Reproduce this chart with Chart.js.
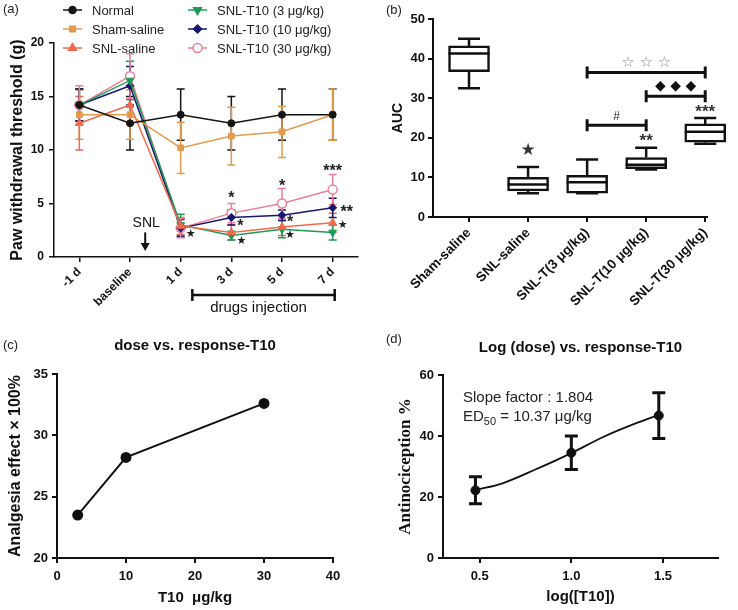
<!DOCTYPE html>
<html>
<head>
<meta charset="utf-8">
<script src="https://cdn.jsdelivr.net/npm/chart.js@4.4.1/dist/chart.umd.min.js"></script>
<style>
  body { margin: 0; background: #fff; width: 738px; height: 610px; position: relative; overflow: hidden;
         font-family: "Liberation Sans", Arial, sans-serif; }
  canvas { position: absolute; }
  .tag { position: absolute; font-size: 13px; color: #222; }
</style>
</head>
<body>
<canvas id="chartA" width="370" height="320" style="left:0;top:0"></canvas>
<canvas id="chartB" width="368" height="320" style="left:370px;top:0"></canvas>
<canvas id="chartC" width="370" height="290" style="left:0;top:320px"></canvas>
<canvas id="chartD" width="368" height="290" style="left:370px;top:320px"></canvas>
<div class="tag" style="left:3px;top:1px">(a)</div>
<div class="tag" style="left:386px;top:2px">(b)</div>
<div class="tag" style="left:3px;top:337px">(c)</div>
<div class="tag" style="left:386px;top:331px">(d)</div>
<script>
// ---- panel (a): paw withdrawal threshold over time ----
const timeLabels = ['-1 d', 'baseline', '1 d', '3 d', '5 d', '7 d'];
const normalMean = [14.2, 12.5, 13.3, 12.5, 13.3, 13.3];
const normalSem  = [1.5, 2.5, 2.4, 2.5, 2.4, 2.4];
const shamMean   = [13.3, 13.3, 10.2, 11.3, 11.7, 13.3];
const shamSem    = [2.3, 2.3, 2.4, 2.7, 2.4, 2.4];
const snlMean    = [12.5, 14.2, 2.9, 2.3, 2.8, 3.2];
const snlSem     = [2.5, 1.8, 0.8, 0.7, 0.8, 0.9];
const t3Mean     = [14.2, 16.5, 3.0, 2.0, 2.6, 2.3];
const t3Sem      = [1.5, 1.8, 1.0, 0.4, 0.8, 0.7];
const t10Mean    = [14.2, 16.0, 2.7, 3.7, 3.9, 4.6];
const t10Sem     = [1.5, 1.8, 0.8, 0.7, 0.5, 0.9];
const t30Mean    = [14.2, 16.9, 2.7, 4.1, 5.0, 6.3];
const t30Sem     = [1.8, 2.1, 0.9, 0.9, 1.4, 1.4];
// significance marks: category index, value, text
const sigMarksA = [
  [2, 2.1, '★', 10], [3, 5.8, '*', 0], [3, 3.2, '*', 9], [3, 1.5, '★', 10],
  [4, 6.9, '*', 0], [4, 3.5, '*', 8], [4, 2.0, '★', 8],
  [5, 8.3, '***', 0], [5, 4.5, '**', 14], [5, 3.0, '★', 10]
];

// ---- panel (b): AUC box plot ----
const groupsB = ['Sham-saline', 'SNL-saline', 'SNL-T(3 μg/kg)', 'SNL-T(10 μg/kg)', 'SNL-T(30 μg/kg)'];
const aucMin = [32.5, 6.0, 6.0, 12.0, 18.5];
const aucQ1  = [36.7, 6.6, 6.0, 12.2, 18.9];
const aucMed = [41.3, 8.2, 8.8, 13.2, 21.5];
const aucQ3  = [43.2, 10.0, 10.5, 15.0, 23.5];
const aucMax = [45.0, 12.6, 14.5, 17.5, 25.0];
const sigMarksB = [[1, 16.7, '★'], [3, 20.0, '**'], [4, 27.3, '***']];
const bracketsB = [
  { from: 2, to: 3, y: 23.2, text: '#', ty: 25.3 },
  { from: 3, to: 4, y: 30.5, text: '◆ ◆ ◆', ty: 33.0 },
  { from: 2, to: 4, y: 36.5, text: '☆ ☆ ☆', ty: 38.9 }
];

// ---- panel (c): dose vs response ----
const doseC = [3, 10, 30];
const effectC = [23.5, 28.2, 32.6];

// ---- panel (d): log dose vs response ----
const logDose = [0.477, 1.0, 1.477];
const antiMean = [22.2, 34.5, 46.7];
const antiSem = [4.4, 5.5, 7.5];
const fitX = [0.477, 0.625, 0.807, 1.0, 1.171, 1.354, 1.477];
const fitY = [22.3, 24.5, 29.1, 34.4, 39.6, 44.2, 46.9];

const SANS = '"Liberation Sans", Arial, sans-serif';
Chart.defaults.font.family = SANS;
Chart.defaults.color = '#111';
Chart.defaults.animation = false;
Chart.defaults.plugins.legend.display = false;
Chart.defaults.plugins.tooltip.enabled = false;

function axis(opts) {
  const w = opts.lineWidth || 2;
  return Object.assign({
    border: { display: true, color: '#111', width: w },
    grid: { display: true, drawOnChartArea: false, drawTicks: true, tickLength: 5, color: '#111', lineWidth: w },
    ticks: { color: '#111', font: { size: 13, weight: 'bold' }, padding: 4 }
  }, opts.extra);
}

function mark(ctx, text, x, y, size, color) {
  const star = /[★☆◆]/.test(text);
  ctx.font = (star ? '' : 'bold ') + size + 'px ' + (star ? '"DejaVu Sans", sans-serif' : SANS);
  ctx.fillStyle = color || '#111';
  ctx.textAlign = 'center';
  ctx.textBaseline = 'middle';
  // asterisks sit high in the em box, pull them down to their visual centre
  ctx.fillText(text, x, text.indexOf('*') >= 0 ? y + size * 0.22 : y);
}

// ================= (a) =================
const semA = [normalSem, shamSem, snlSem, t3Sem, t10Sem, t30Sem];
const panelA = {
  id: 'panelA',
  beforeDatasetsDraw(chart) {
    const { ctx, scales: { x, y } } = chart;
    chart.data.datasets.forEach((ds, k) => {
      ctx.save();
      ctx.strokeStyle = ds.borderColor;
      ctx.lineWidth = 1.5;
      ds.data.forEach((v, i) => {
        const px = x.getPixelForValue(i);
        const top = y.getPixelForValue(v + semA[k][i]);
        const bot = y.getPixelForValue(v - semA[k][i]);
        ctx.beginPath();
        ctx.moveTo(px, top); ctx.lineTo(px, bot);
        ctx.moveTo(px - 4, top); ctx.lineTo(px + 4, top);
        ctx.moveTo(px - 4, bot); ctx.lineTo(px + 4, bot);
        ctx.stroke();
      });
      ctx.restore();
    });
  },
  afterDraw(chart) {
    const { ctx, chartArea, scales: { x, y } } = chart;
    ctx.save();
    // legend, two columns
    chart.data.datasets.forEach((ds, k) => {
      const lx = k < 3 ? 63 : 188;
      const ly = 10 + (k % 3) * 19;
      ctx.strokeStyle = ds.borderColor;
      ctx.lineWidth = 1.5;
      ctx.beginPath(); ctx.moveTo(lx, ly); ctx.lineTo(lx + 19, ly); ctx.stroke();
      ctx.fillStyle = ds.backgroundColor;
      Chart.helpers.drawPoint(ctx, {
        pointStyle: ds.pointStyle, radius: ds.pointRadius,
        rotation: ds.pointRotation || 0, borderWidth: ds.pointBorderWidth
      }, lx + 9.5, ly);
      ctx.fillStyle = '#222';
      ctx.font = '13px ' + SANS;
      ctx.textAlign = 'left';
      ctx.textBaseline = 'middle';
      ctx.fillText(ds.label, lx + 29, ly + 1);
    });
    // significance marks
    sigMarksA.forEach(([i, v, t, dx]) => {
      mark(ctx, t, x.getPixelForValue(i) + dx, y.getPixelForValue(v), t.indexOf('★') >= 0 ? 11 : 16, '#222');
    });
    // SNL arrow
    const sx = x.getPixelForValue(1.3);
    ctx.fillStyle = '#111';
    ctx.font = '14px ' + SANS;
    ctx.textAlign = 'center';
    ctx.fillText('SNL', sx + 1, y.getPixelForValue(3.2));
    ctx.strokeStyle = '#111';
    ctx.lineWidth = 2;
    ctx.beginPath(); ctx.moveTo(sx, y.getPixelForValue(2.3)); ctx.lineTo(sx, y.getPixelForValue(1.1)); ctx.stroke();
    const headTop = y.getPixelForValue(1.3), tip = y.getPixelForValue(0.55);
    ctx.beginPath(); ctx.moveTo(sx - 4.5, headTop); ctx.lineTo(sx + 4.5, headTop); ctx.lineTo(sx, tip); ctx.closePath(); ctx.fill();
    // drugs injection bracket
    const bx0 = x.getPixelForValue(2.23), bx1 = x.getPixelForValue(5.04), by = chartArea.bottom + 38;
    ctx.lineWidth = 2.5;
    ctx.beginPath();
    ctx.moveTo(bx0, by); ctx.lineTo(bx1, by);
    ctx.moveTo(bx0, by - 6); ctx.lineTo(bx0, by + 6);
    ctx.moveTo(bx1, by - 6); ctx.lineTo(bx1, by + 6);
    ctx.stroke();
    ctx.font = '15px ' + SANS;
    ctx.fillText('drugs injection', (bx0 + bx1) / 2 - 5, by + 13);
    ctx.restore();
  }
};

function lineSet(label, data, color, style, radius, extra) {
  return Object.assign({
    label: label, data: data, borderColor: color, backgroundColor: color,
    borderWidth: 1.5, pointStyle: style, pointRadius: radius, pointBorderWidth: 1, tension: 0
  }, extra || {});
}

new Chart(document.getElementById('chartA'), {
  type: 'line',
  data: {
    labels: timeLabels,
    datasets: [
      lineSet('Normal', normalMean, '#151515', 'circle', 3.5),
      lineSet('Sham-saline', shamMean, '#E29A4C', 'rect', 4),
      lineSet('SNL-saline', snlMean, '#F2694D', 'triangle', 4.5),
      lineSet('SNL-T10 (3 μg/kg)', t3Mean, '#1E9A58', 'triangle', 4.5, { pointRotation: 180 }),
      lineSet('SNL-T10 (10 μg/kg)', t10Mean, '#17176F', 'rectRot', 4),
      lineSet('SNL-T10 (30 μg/kg)', t30Mean, '#EC7E99', 'circle', 4.5, { backgroundColor: '#fff', pointBorderWidth: 1.5 })
    ]
  },
  options: {
    responsive: false,
    layout: { padding: { left: 0, top: 43, right: 12, bottom: 0 } },
    scales: {
      x: axis({ lineWidth: 1.5, extra: {
        offset: true,
        ticks: { color: '#111', font: { size: 12, weight: 'bold' }, minRotation: 45, maxRotation: 45, autoSkip: false, padding: 3 },
        afterFit(s) { s.height = 63; }
      } }),
      y: axis({ lineWidth: 1.5, extra: {
        min: 0, max: 20,
        ticks: { color: '#111', font: { size: 12, weight: 'bold' }, stepSize: 5, padding: 5 },
        title: { display: true, text: 'Paw withdrawal threshold (g)', font: { size: 16, weight: 'bold' }, padding: { top: 8, bottom: 0 } },
        afterFit(s) { s.width = 54; }
      } })
    }
  },
  plugins: [panelA]
});

// ================= (b) =================
const panelB = {
  id: 'panelB',
  afterDatasetsDraw(chart) {
    const { ctx, scales: { x, y } } = chart;
    ctx.save();
    ctx.strokeStyle = '#111';
    ctx.lineWidth = 2.5;
    groupsB.forEach((g, i) => {
      const px = x.getPixelForValue(i);
      const hw = 20.5, cw = 11;
      const ymin = y.getPixelForValue(aucMin[i]), yq1 = y.getPixelForValue(aucQ1[i]);
      const ymed = y.getPixelForValue(aucMed[i]);
      const yq3 = y.getPixelForValue(aucQ3[i]), ymax = y.getPixelForValue(aucMax[i]);
      ctx.beginPath();
      ctx.moveTo(px - hw, ymed); ctx.lineTo(px + hw, ymed);
      ctx.moveTo(px, yq3); ctx.lineTo(px, ymax);
      ctx.moveTo(px - cw, ymax); ctx.lineTo(px + cw, ymax);
      ctx.moveTo(px, yq1); ctx.lineTo(px, ymin);
      ctx.moveTo(px - cw, ymin); ctx.lineTo(px + cw, ymin);
      ctx.stroke();
    });
    bracketsB.forEach(b => {
      const x0 = x.getPixelForValue(b.from), x1 = x.getPixelForValue(b.to), by = y.getPixelForValue(b.y);
      ctx.lineWidth = 3;
      ctx.beginPath();
      ctx.moveTo(x0, by); ctx.lineTo(x1, by);
      ctx.moveTo(x0, by - 6); ctx.lineTo(x0, by + 6);
      ctx.moveTo(x1, by - 6); ctx.lineTo(x1, by + 6);
      ctx.stroke();
      if (b.text === '#') {
        ctx.font = '12px ' + SANS;
        ctx.fillStyle = '#222';
        ctx.textAlign = 'center';
        ctx.textBaseline = 'middle';
        ctx.fillText(b.text, (x0 + x1) / 2, y.getPixelForValue(b.ty));
      } else if (b.text.indexOf('☆') >= 0) {
        mark(ctx, b.text, (x0 + x1) / 2, y.getPixelForValue(b.ty), 15, '#8c8c8c');
      } else {
        mark(ctx, b.text, (x0 + x1) / 2, y.getPixelForValue(b.ty), 14, '#111');
      }
    });
    sigMarksB.forEach(([i, v, t]) => {
      mark(ctx, t, x.getPixelForValue(i), y.getPixelForValue(v), t === '★' ? 17 : 17, '#333');
    });
    ctx.restore();
  }
};

new Chart(document.getElementById('chartB'), {
  type: 'bar',
  data: {
    datasets: [{
      data: groupsB.map((g, i) => ({ x: i, y: [aucQ1[i], aucQ3[i]] })),
      backgroundColor: '#fff', borderColor: '#111', borderWidth: 2.5, borderSkipped: false,
      barThickness: 41, clip: false
    }]
  },
  options: {
    responsive: false,
    layout: { padding: { left: 0, top: 19, right: 31, bottom: 0 } },
    scales: {
      x: axis({ extra: {
        type: 'linear', min: -0.61, max: 4.03, offset: false,
        grid: { display: true, drawOnChartArea: false, drawTicks: true, tickLength: 5, color: '#111', lineWidth: 2, offset: false },
        afterBuildTicks(s) { s.ticks = groupsB.map((g, i) => ({ value: i })); },
        ticks: { color: '#111', font: { size: 13.5, weight: 'bold' }, minRotation: 45, maxRotation: 45, autoSkip: false, padding: 3,
                 callback: v => groupsB[v] },
        afterFit(s) { s.height = 103; }
      } }),
      y: axis({ extra: {
        min: 0, max: 50,
        ticks: { color: '#111', font: { size: 13, weight: 'bold' }, stepSize: 10, padding: 3 },
        title: { display: true, text: 'AUC', font: { size: 14, weight: 'bold' }, padding: { top: 20, bottom: 0 } },
        afterFit(s) { s.width = 63; }
      } })
    }
  },
  plugins: [panelB]
});

// ================= (c) =================
new Chart(document.getElementById('chartC'), {
  type: 'scatter',
  data: {
    datasets: [{
      data: doseC.map((d, i) => ({ x: d, y: effectC[i] })),
      showLine: true, borderColor: '#111', backgroundColor: '#111', borderWidth: 2, pointRadius: 4.5
    }]
  },
  options: {
    responsive: false,
    layout: { padding: { left: 0, top: 0, right: 37, bottom: 0 } },
    plugins: {
      title: { display: true, fullSize: false, text: 'dose vs. response-T10', color: '#111',
               font: { size: 15, weight: 'bold' }, padding: { top: 17, bottom: 19 } }
    },
    scales: {
      x: axis({ extra: {
        min: 0, max: 40,
        ticks: { color: '#111', font: { size: 13, weight: 'bold' }, stepSize: 10, padding: 6 },
        title: { display: true, text: 'T10  μg/kg', font: { size: 15, weight: 'bold' }, padding: { top: 0, bottom: 3 } },
        afterFit(s) { s.height = 52; }
      } }),
      y: axis({ extra: {
        min: 20, max: 35,
        ticks: { color: '#111', font: { size: 13, weight: 'bold' }, stepSize: 5, padding: 4 },
        title: { display: true, text: 'Analgesia effect × 100%', font: { size: 16, weight: 'bold' }, padding: { top: 6, bottom: 0 } },
        afterFit(s) { s.width = 57; }
      } })
    }
  }
});

// ================= (d) =================
const panelD = {
  id: 'panelD',
  beforeDatasetsDraw(chart) {
    const { ctx, scales: { x, y } } = chart;
    ctx.save();
    ctx.strokeStyle = '#111';
    ctx.lineWidth = 3;
    logDose.forEach((d, i) => {
      const px = x.getPixelForValue(d);
      const top = y.getPixelForValue(antiMean[i] + antiSem[i]);
      const bot = y.getPixelForValue(antiMean[i] - antiSem[i]);
      ctx.beginPath();
      ctx.moveTo(px, top); ctx.lineTo(px, bot);
      ctx.moveTo(px - 6.5, top); ctx.lineTo(px + 6.5, top);
      ctx.moveTo(px - 6.5, bot); ctx.lineTo(px + 6.5, bot);
      ctx.stroke();
    });
    ctx.restore();
  },
  afterDraw(chart) {
    const { ctx, chartArea } = chart;
    ctx.save();
    ctx.fillStyle = '#222';
    ctx.textAlign = 'left';
    ctx.textBaseline = 'middle';
    const tx = chartArea.left + 20;
    ctx.font = '15px ' + SANS;
    ctx.fillText('Slope factor : 1.804', tx, chartArea.top + 23);
    ctx.fillText('ED', tx, chartArea.top + 42);
    let w = ctx.measureText('ED').width;
    ctx.font = '11px ' + SANS;
    ctx.fillText('50', tx + w, chartArea.top + 47);
    w += ctx.measureText('50').width;
    ctx.font = '15px ' + SANS;
    ctx.fillText(' = 10.37 μg/kg', tx + w, chartArea.top + 42);
    ctx.restore();
  }
};

new Chart(document.getElementById('chartD'), {
  type: 'scatter',
  data: {
    datasets: [
      {
        data: logDose.map((d, i) => ({ x: d, y: antiMean[i] })),
        borderColor: '#111', backgroundColor: '#111', pointRadius: 4.5, showLine: false
      },
      {
        data: fitX.map((d, i) => ({ x: d, y: fitY[i] })),
        showLine: true, borderColor: '#111', borderWidth: 1.8, pointRadius: 0,
        cubicInterpolationMode: 'monotone'
      }
    ]
  },
  options: {
    responsive: false,
    layout: { padding: { left: 0, top: 0, right: 20, bottom: 0 } },
    plugins: {
      title: { display: true, fullSize: false, text: 'Log (dose) vs. response-T10', color: '#111',
               font: { size: 15, weight: 'bold' }, padding: { top: 19, bottom: 18 } }
    },
    scales: {
      x: axis({ extra: {
        min: 0.3, max: 1.8,
        afterBuildTicks(s) { s.ticks = [0.5, 1.0, 1.5].map(v => ({ value: v })); },
        ticks: { color: '#111', font: { size: 13, weight: 'bold' }, padding: 6, callback: v => v.toFixed(1) },
        title: { display: true, text: 'log([T10])', font: { size: 15, weight: 'bold' }, padding: { top: 0, bottom: 4 } },
        afterFit(s) { s.height = 52; }
      } }),
      y: axis({ extra: {
        min: 0, max: 60,
        ticks: { color: '#111', font: { size: 13, weight: 'bold' }, stepSize: 20, padding: 4 },
        title: { display: true, text: 'Antinociception %', color: '#111',
                 font: { family: '"Liberation Serif", "Times New Roman", serif', size: 17, weight: 'bold' },
                 padding: { top: 25, bottom: 0 } },
        afterFit(s) { s.width = 73; }
      } })
    }
  },
  plugins: [panelD]
});
</script>
</body>
</html>
